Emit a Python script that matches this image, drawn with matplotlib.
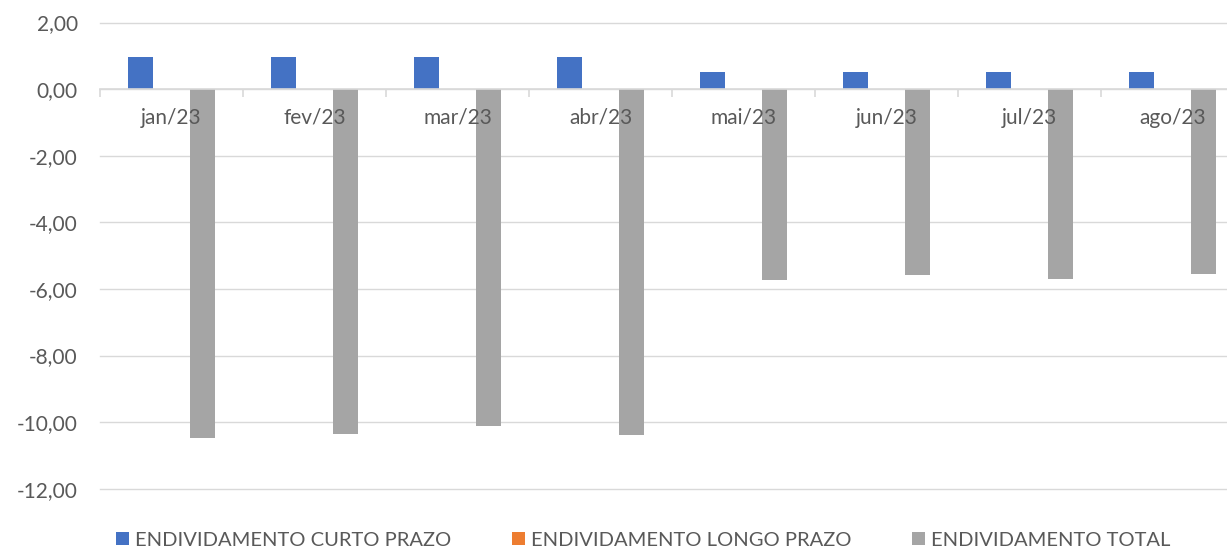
import matplotlib
matplotlib.use("Agg")
import matplotlib.pyplot as plt
from matplotlib.ticker import FixedLocator, FuncFormatter
from matplotlib.patches import Patch
import numpy as np

categories = ["jan/23", "fev/23", "mar/23", "abr/23", "mai/23", "jun/23", "jul/23", "ago/23"]
curto_prazo = [0.95, 0.95, 0.95, 0.95, 0.52, 0.52, 0.52, 0.52]
longo_prazo = [0, 0, 0, 0, 0, 0, 0, 0]
total = [-10.46, -10.34, -10.10, -10.37, -5.72, -5.59, -5.69, -5.56]
series_names = ["ENDIVIDAMENTO CURTO PRAZO", "ENDIVIDAMENTO LONGO PRAZO", "ENDIVIDAMENTO TOTAL"]
colors = ["#4472C4", "#ED7D31", "#A5A5A5"]
yticks = [2, 0, -2, -4, -6, -8, -10, -12]

plt.rcParams['font.family'] = ['Lato', 'DejaVu Sans']
W, H = 1227, 550
fig = plt.figure(figsize=(W / 100, H / 100), dpi=100)
left, right_px = 100, 1244
top_px, bot_px = 22.5, 488.8
ax = fig.add_axes([left / W, 1 - bot_px / H, (right_px - left) / W, (bot_px - top_px) / H])

x = np.arange(len(categories))
bw = 0.175
off = 0.22
for i, (vals, c) in enumerate(zip([curto_prazo, longo_prazo, total], colors)):
    ax.bar(x + (i - 1) * off, vals, width=bw, color=c, zorder=3)

ax.set_xlim(-0.5, len(categories) - 0.5)
ax.set_ylim(-12, 2)
ax.set_yticks(yticks)
ax.yaxis.set_major_formatter(FuncFormatter(lambda v, p: f"{v:.2f}".replace(".", ",")))
ax.grid(axis='y', color='#D9D9D9', linewidth=1.0, zorder=0)
for gl in ax.get_ygridlines():
    gl.set_clip_on(False)
ax.tick_params(axis='y', length=0, pad=16, labelsize=15, labelcolor='#595959')

ax.spines['bottom'].set_position(('data', 0))
ax.spines['bottom'].set_color('#D9D9D9')
ax.spines['bottom'].set_linewidth(1.2)
ax.spines['bottom'].set_zorder(4)
for s in ['top', 'right', 'left']:
    ax.spines[s].set_visible(False)
ax.set_xticks(x)
ax.set_xticklabels([])
ax.xaxis.set_minor_locator(FixedLocator(np.arange(-0.5, len(categories), 1.0)))
ax.tick_params(axis='x', which='major', length=0)
ax.tick_params(axis='x', which='minor', length=6, width=1.2, color='#D9D9D9', direction='out')

for xi, cat in zip(x, categories):
    ax.annotate(cat, xy=(xi, 0), xycoords='data', xytext=(0, -28.5), textcoords='offset pixels',
                ha='center', va='center', fontsize=15, color='#595959', zorder=6,
                annotation_clip=False)

handles = [Patch(facecolor=c, edgecolor='none') for c in colors]
fig.legend(handles, series_names, loc='center', bbox_to_anchor=(643 / W, 1 - 540 / H),
           ncol=3, frameon=False, fontsize=14.5, labelcolor='#595959',
           handlelength=0.65, handleheight=0.65, handletextpad=0.3, columnspacing=3.0,
           borderaxespad=0, borderpad=0)

fig.savefig("out.png", dpi=100)
